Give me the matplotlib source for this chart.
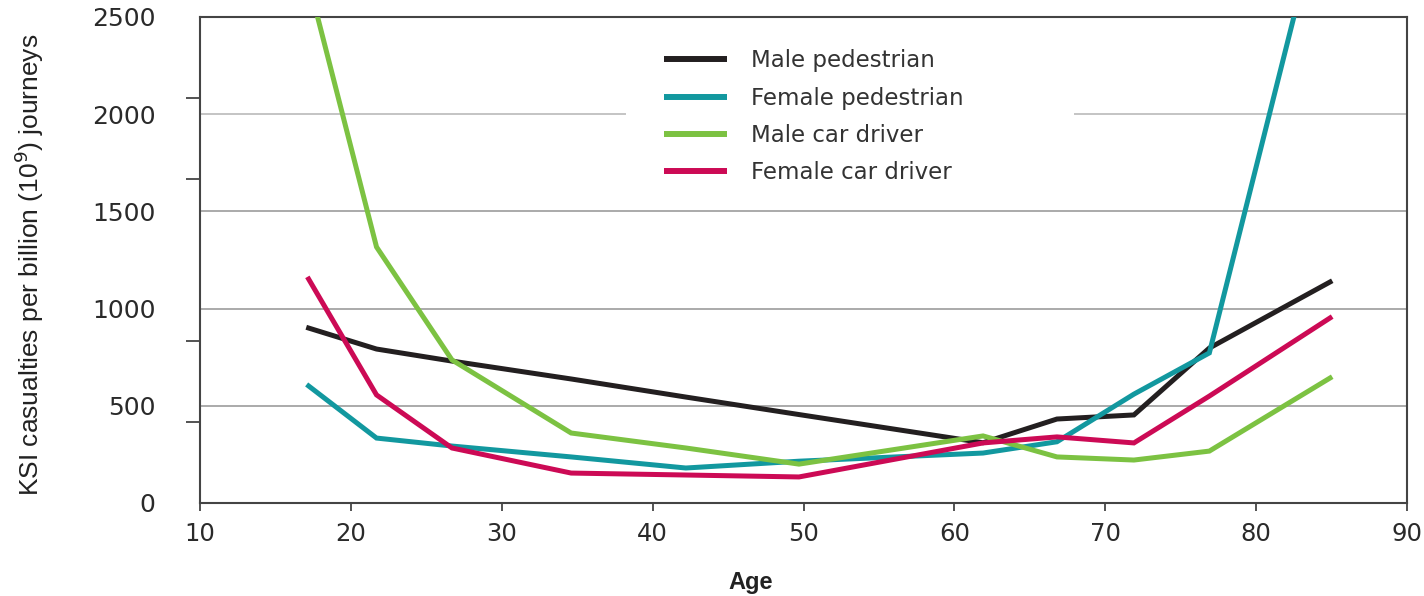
import numpy as np
import matplotlib
matplotlib.use("Agg")
import matplotlib.pyplot as plt
from matplotlib.lines import Line2D

ages = [17.2, 21.7, 26.7, 34.6, 42.2, 49.7, 61.9, 66.8, 71.9, 76.9, 84.9]

male_ped = [900, 792, 730, 638, 545, 455, 310, 432, 453, 797, 1137]
female_ped = [602, 334, 293, 237, 180, 215, 257, 315, 560, 772, 3240]
male_driver = [2680, 1317, 736, 360, 283, 200, 345, 237, 221, 267, 643]
female_driver = [1152, 556, 283, 154, 144, 134, 309, 340, 309, 550, 952]

labels = ["Male pedestrian", "Female pedestrian", "Male car driver", "Female car driver"]
colors = ["#231f20", "#12989f", "#7cc242", "#cc0a55"]
series = [male_ped, female_ped, male_driver, female_driver]

fig = plt.figure(figsize=(14.24, 5.96), dpi=100)
ax = fig.add_axes([200 / 1424, 1 - 503 / 596, 1207 / 1424, 486 / 596])

# gridlines (the 2000 one is broken where the legend sits)
for g in [500, 1000, 1500]:
    ax.axhline(g, color="#9c9c9c", lw=1.2, zorder=1)
ax.axhline(2000, xmin=0, xmax=0.352, color="#c4c4c4", lw=1.4, zorder=1)
ax.axhline(2000, xmin=0.725, xmax=1, color="#c4c4c4", lw=1.4, zorder=1)

for vals, c in zip(series, colors):
    ax.plot(ages, vals, color=c, lw=3.6, solid_joinstyle="miter", zorder=3)

ax.set_xlim(10, 90)
ax.set_ylim(0, 2500)

ax.set_xticks(range(10, 91, 10))
ax.set_yticks(range(0, 2501, 500))
ax.set_yticks(np.delete(np.arange(7) * 2500 / 6, 3), minor=True)
ax.tick_params(axis="x", direction="out", length=6, width=1.3, color="#444444",
               labelsize=17.5, pad=8)
ax.tick_params(axis="y", which="major", length=0, pad=32, labelsize=18)
ax.tick_params(axis="y", which="minor", direction="out", length=10, width=1.3, color="#444444")
for t in ax.get_xticklabels() + ax.get_yticklabels():
    t.set_family("DejaVu Sans")
    t.set_color("#2a2a2a")

for s in ax.spines.values():
    s.set_color("#444444")
    s.set_linewidth(1.5)

ax.set_ylabel(r"KSI casualties per billion (10$^9$) journeys", fontsize=19,
              family="Liberation Sans", color="#222222")
ax.yaxis.set_label_coords(-0.128, 0.49)
ax.set_xlabel("Age", fontsize=17, fontweight="bold", family="Liberation Sans", color="#222222")
ax.xaxis.set_label_coords(0.456, -0.14)

handles = [Line2D([], [], color=c, lw=4.3, solid_capstyle="butt") for c in colors]
leg = ax.legend(handles, labels, loc="upper left", bbox_to_anchor=(0.375, 0.957),
                frameon=False, handlelength=2.75, handletextpad=1.05, borderpad=0,
                labelspacing=0.62, prop={"family": "DejaVu Sans", "size": 16.5})
for t in leg.get_texts():
    t.set_color("#333333")

fig.savefig("out.png", dpi=100)
